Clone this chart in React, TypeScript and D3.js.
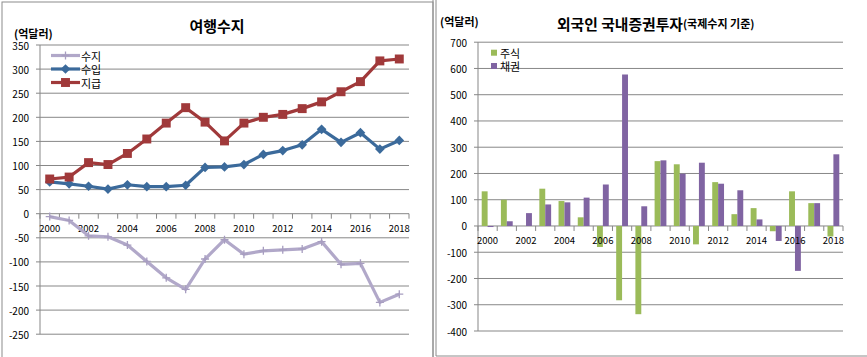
import React from "react";
import * as d3 from "d3";

const years = ["2000","2001","2002","2003","2004","2005","2006","2007","2008","2009","2010","2011","2012","2013","2014","2015","2016","2017","2018"];
const tickYears = ["2000","2002","2004","2006","2008","2010","2012","2014","2016","2018"];

// 여행수지 (억달러)
const balance = [-6, -14, -46, -48, -65, -99, -133, -157, -94, -54, -84, -77, -75, -73, -58, -105, -103, -184, -167];
const receipts = [66, 62, 57, 51, 60, 56, 56, 59, 96, 97, 102, 123, 131, 143, 175, 148, 168, 134, 152];
const payments = [72, 76, 106, 102, 125, 155, 188, 220, 190, 151, 188, 200, 206, 218, 232, 253, 274, 317, 321];
const leftTicks = [350, 300, 250, 200, 150, 100, 50, 0, -50, -100, -150, -200, -250];

// 외국인 국내증권투자 (억달러)
const stocks = [132, 100, 0, 142, 95, 33, -80, -283, -336, 247, 235, -70, 167, 45, 68, -20, 132, 87, -40];
const bonds = [-4, 18, 49, 82, 90, 108, 158, 577, 75, 250, 199, 241, 161, 136, 25, -57, -171, 87, 273];
const rightTicks = [700, 600, 500, 400, 300, 200, 100, 0, -100, -200, -300, -400];

const FONT = "'Noto Sans CJK KR', 'Noto Sans', sans-serif";
const GRID = "#878787";
const C_BAL = "#B1A8C9";
const C_REC = "#3B6A9B";
const C_PAY = "#A0393A";
const C_STK = "#9BBB59";
const C_BND = "#8064A2";

function LeftChart() {
  const x = d3.scaleBand<string>().domain(years).range([40, 409]).padding(0);
  const y = d3.scaleLinear().domain([-250, 350]).range([334.2, 45]);
  const cx = (yr: string) => (x(yr) as number) + x.bandwidth() / 2;
  const line = d3.line<number>().x((_, i) => cx(years[i])).y((d) => y(d));
  const sq = d3.symbol().type(d3.symbolSquare).size(80)() as string;
  const dia = d3.symbol().type(d3.symbolDiamond2).size(60)() as string;
  const plus = "M-4,0H4M0,-4V4";
  const series = [
    { name: "수지", data: balance, color: C_BAL, marker: "plus" },
    { name: "수입", data: receipts, color: C_REC, marker: "dia" },
    { name: "지급", data: payments, color: C_PAY, marker: "sq" },
  ];
  const mk = (m: string, color: string, tx: number, ty: number, key: any) => {
    if (m === "plus") return <path key={key} d={plus} transform={`translate(${tx},${ty})`} stroke="#A79DC0" strokeWidth={1.3} fill="none" />;
    if (m === "dia") return <path key={key} d={dia} transform={`translate(${tx},${ty})`} fill={color} />;
    return <path key={key} d={sq} transform={`translate(${tx},${ty})`} fill={color} />;
  };
  return (
    <g>
      <rect x={2} y={2} width={431} height={370} fill="#fff" stroke="#8c8c8c" strokeWidth={1} />
      <text x={217} y={25} textAnchor="middle" dominantBaseline="central" fontFamily={FONT} fontSize={15} fontWeight="bold">여행수지</text>
      <text x={14} y={32.5} dominantBaseline="central" fontFamily={FONT} fontSize={11} fontWeight="bold">(억달러)</text>
      {leftTicks.map((t) => (
        <g key={t}>
          <line x1={36} x2={409} y1={y(t)} y2={y(t)} stroke={GRID} strokeWidth={1} />
          <text x={29} y={y(t)} textAnchor="end" dominantBaseline="central" fontFamily={FONT} fontSize={10}>{t}</text>
        </g>
      ))}
      <line x1={40} x2={40} y1={y(350)} y2={y(-250)} stroke={GRID} strokeWidth={1} />
      {years.map((yr) => (
        <line key={yr} x1={x(yr) as number} x2={x(yr) as number} y1={y(0)} y2={y(0) + 5} stroke={GRID} strokeWidth={1} />
      ))}
      <line x1={409} x2={409} y1={y(0)} y2={y(0) + 5} stroke={GRID} strokeWidth={1} />
      {tickYears.map((yr) => (
        <text key={yr} x={cx(yr)} y={228} textAnchor="middle" dominantBaseline="central" fontFamily={FONT} fontSize={9.5}>{yr}</text>
      ))}
      {series.map((s) => (
        <g key={s.name}>
          <path d={line(s.data) as string} fill="none" stroke={s.color} strokeWidth={3.2} strokeLinejoin="round" />
          {s.data.map((v, i) => mk(s.marker, s.color, cx(years[i]), y(v), i))}
        </g>
      ))}
      {series.map((s, i) => {
        const ly = [55.5, 69, 82.5][i];
        return (
          <g key={"lg" + s.name}>
            <line x1={51} x2={80} y1={ly} y2={ly} stroke={s.color} strokeWidth={3.2} />
            {mk(s.marker, s.color, 65.5, ly, "m")}
            <text x={81} y={ly} dominantBaseline="central" fontFamily={FONT} fontSize={11}>{s.name}</text>
          </g>
        );
      })}
    </g>
  );
}

function RightChart() {
  const x = d3.scaleBand<string>().domain(years).range([478, 843]).padding(0);
  const y = d3.scaleLinear().domain([-400, 700]).range([331, 42.2]);
  const cx = (yr: string) => (x(yr) as number) + x.bandwidth() / 2;
  const bw = 5.9;
  return (
    <g>
      <line x1={433} x2={433} y1={0} y2={357} stroke="#8c8c8c" strokeWidth={1} />
      <line x1={436} x2={436} y1={0} y2={356} stroke="#8c8c8c" strokeWidth={1} />
      <line x1={436} x2={867} y1={356} y2={356} stroke="#8c8c8c" strokeWidth={1} />
      <text x={440} y={20.5} dominantBaseline="central" fontFamily={FONT} fontSize={11} fontWeight="bold">(억달러)</text>
      <text x={557} y={22.7} dominantBaseline="central" fontFamily={FONT} fontWeight="bold">
        <tspan fontSize={14.8}>외국인 국내증권투자</tspan>
        <tspan fontSize={11}>(국제수지 기준)</tspan>
      </text>
      {rightTicks.map((t) => (
        <g key={t}>
          <line x1={474} x2={843} y1={y(t)} y2={y(t)} stroke={GRID} strokeWidth={1} />
          <text x={467} y={y(t)} textAnchor="end" dominantBaseline="central" fontFamily={FONT} fontSize={10}>{t}</text>
        </g>
      ))}
      <line x1={478} x2={478} y1={y(700)} y2={y(-400)} stroke={GRID} strokeWidth={1} />
      {years.map((yr, i) => (
        <g key={yr}>
          <rect x={cx(yr) - bw} width={bw} y={Math.min(y(0), y(stocks[i]))} height={Math.abs(y(stocks[i]) - y(0))} fill={C_STK} />
          <rect x={cx(yr)} width={bw} y={Math.min(y(0), y(bonds[i]))} height={Math.abs(y(bonds[i]) - y(0))} fill={C_BND} />
        </g>
      ))}
      {years.map((yr) => (
        <line key={"t" + yr} x1={x(yr) as number} x2={x(yr) as number} y1={y(0)} y2={y(0) + 5} stroke={GRID} strokeWidth={1} />
      ))}
      <line x1={843} x2={843} y1={y(0)} y2={y(0) + 5} stroke={GRID} strokeWidth={1} />
      {tickYears.map((yr) => (
        <text key={yr} x={cx(yr)} y={239.5} textAnchor="middle" dominantBaseline="central" fontFamily={FONT} fontSize={9.5}>{yr}</text>
      ))}
      <rect x={491} y={49.7} width={6} height={6} fill={C_STK} />
      <text x={500} y={52.7} dominantBaseline="central" fontFamily={FONT} fontSize={11}>주식</text>
      <rect x={491} y={63} width={6} height={6} fill={C_BND} />
      <text x={500} y={66} dominantBaseline="central" fontFamily={FONT} fontSize={11}>채권</text>
    </g>
  );
}

export default function App() {
  return (
    <svg width={867} height={357} style={{ position: "absolute", left: 0, top: 0, background: "#fff" }}>
      <rect x={0} y={0} width={867} height={357} fill="#fff" />
      <LeftChart />
      <RightChart />
    </svg>
  );
}
